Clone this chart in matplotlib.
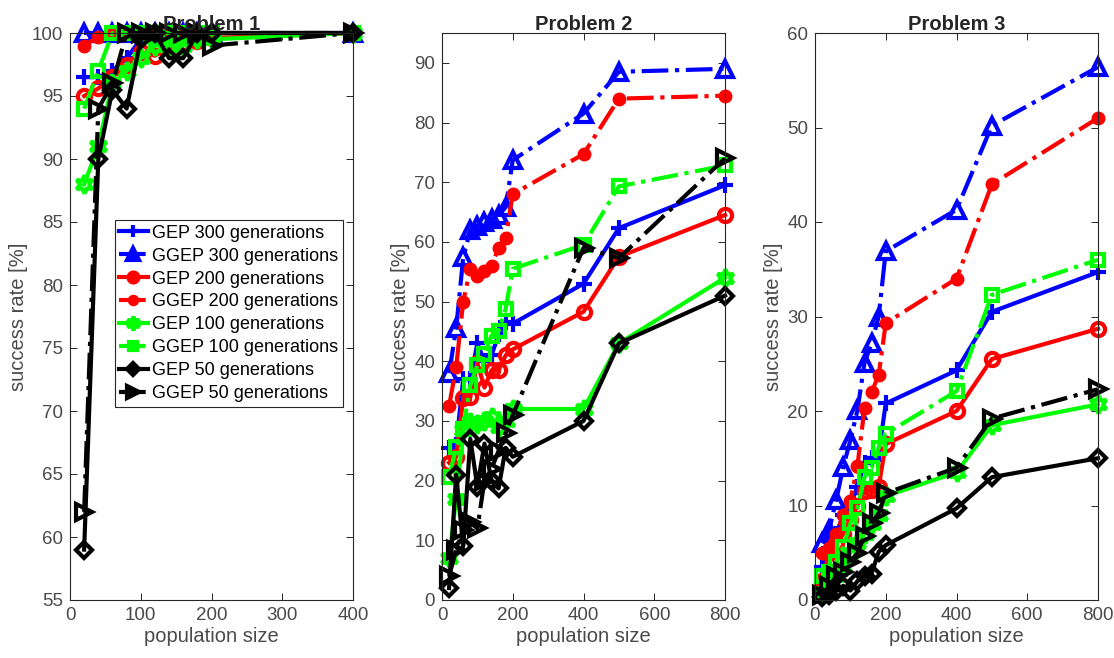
import matplotlib
matplotlib.use("Agg")
import matplotlib.pyplot as plt

plt.rcParams['font.family'] = ['Liberation Sans', 'DejaVu Sans']

# ---------------- data ----------------
pop1 = [20, 40, 60, 80, 100, 120, 140, 160, 180, 200, 400]
pop23 = [20, 40, 60, 80, 100, 120, 140, 160, 180, 200, 400, 500, 800]

labels = ["GEP 300 generations", "GGEP 300 generations",
          "GEP 200 generations", "GGEP 200 generations",
          "GEP 100 generations", "GGEP 100 generations",
          "GEP 50 generations", "GGEP 50 generations"]

# Problem 1
p1_gep300 = [96.5, 96.5, 97, 98, 99.5, 100, 100, 100, 100, 100, 100]
p1_ggep300 = [100, 100, 100, 100, 100, 100, 100, 100, 100, 100, 100]
p1_gep200 = [95, 95.6, 96.5, 97.5, 98.5, 98.2, 98.8, 99.2, 99.4, 99.6, 100]
p1_ggep200 = [99, 99.7, 100, 100, 100, 100, 100, 100, 100, 100, 100]
p1_gep100 = [88, 91, 96, 97, 98, 99, 99, 99, 99.5, 99.5, 100]
p1_ggep100 = [94, 97, 100, 100, 100, 100, 100, 100, 100, 100, 100]
p1_gep50 = [59, 90, 95.5, 94, 99.5, 100, 98, 98, 100, 100, 100]
p1_ggep50 = [62, 94, 96, 100, 100, 100, 100, 100, 100, 99, 100]

# Problem 2
p2_gep300 = [25.5, 26, 37, 37, 43, 40, 41, 44.5, 46.5, 46.3, 53, 62.3, 69.5]
p2_ggep300 = [38, 45.5, 57.4, 62, 62.7, 63.3, 63.9, 64.5, 65.8, 73.7, 81.5, 88.5, 89]
p2_gep200 = [23, 24, 33.8, 34, 39.7, 35.6, 38.5, 38.5, 41, 42, 48.3, 57.5, 64.5]
p2_ggep200 = [32.5, 39, 50, 55.5, 54.3, 55.2, 56, 59, 60.7, 68, 74.7, 84, 84.5]
p2_gep100 = [7, 17, 28.4, 29.8, 29.5, 30, 30.6, 29, 30, 32, 32, 43, 54]
p2_ggep100 = [20.6, 25.6, 28.7, 36, 39.3, 41.3, 44.3, 45.1, 48.8, 55.5, 59.5, 69.3, 72.8]
p2_gep50 = [2, 21, 9, 27, 19, 26.2, 20, 18.7, 25.5, 24, 30, 43, 51]
p2_ggep50 = [4, 8.4, 11.7, 13, 12, 20, 22, 25, 28, 31, 59, 57.3, 74]

# Problem 3
p3_gep300 = [3.5, 5.5, 7, 9, 10, 12, 14.5, 15, 15.5, 20.8, 24.3, 30.5, 34.7]
p3_ggep300 = [6, 7.4, 10.6, 14.1, 16.9, 20.1, 25.1, 27.2, 30, 36.9, 41.3, 50.2, 56.4]
p3_gep200 = [2, 5, 6, 7, 8.5, 10, 11.5, 11.6, 12, 16.5, 20, 25.5, 28.7]
p3_ggep200 = [5, 5.5, 7, 9, 10.5, 14.2, 20.3, 22, 23.8, 29.3, 34, 44, 51]
p3_gep100 = [0.8, 1.5, 2.5, 3.5, 5, 6, 7, 8, 9, 11, 13.5, 18.5, 20.7]
p3_ggep100 = [2.5, 3, 4, 5.6, 8.1, 9.7, 13, 14, 16.1, 17.6, 22.1, 32.3, 36]
p3_gep50 = [0.3, 0.5, 1, 1.5, 1, 2, 2.5, 2.8, 5.1, 5.8, 9.7, 13, 15]
p3_ggep50 = [0.5, 1.5, 2.5, 3, 4, 5, 6.8, 8.1, 9.2, 11.3, 14, 19.2, 22.3]

titles = ["Problem 1", "Problem 2", "Problem 3"]
xlims = [(0, 400), (0, 800), (0, 800)]
xticks = [[0, 100, 200, 300, 400], [0, 200, 400, 600, 800], [0, 200, 400, 600, 800]]
ylims = [(55, 100), (0, 95), (0, 60)]
yticks = [[55, 60, 65, 70, 75, 80, 85, 90, 95, 100],
          [0, 10, 20, 30, 40, 50, 60, 70, 80, 90],
          [0, 10, 20, 30, 40, 50, 60]]

# ---------------- styles ----------------
hexagram = (6, 1, 0)
styles = [
    dict(color=(0, 0, 1), ls='-', marker='+', ms=11, mfc='none'),
    dict(color=(0, 0, 1), ls='-.', marker='^', ms=11, mfc='none'),
    dict(color=(1, 0, 0), ls='-', marker='o', ms=9.5, mfc='none'),
    dict(color=(1, 0, 0), ls='-.', marker='o', ms=7, mfc=(1, 0, 0)),
    dict(color=(0, 1, 0), ls='-', marker=hexagram, ms=13, mfc='none'),
    dict(color=(0, 1, 0), ls='-.', marker='s', ms=8.5, mfc='none'),
    dict(color=(0, 0, 0), ls='-', marker='D', ms=8.5, mfc='none'),
    dict(color=(0, 0, 0), ls='-.', marker='>', ms=11, mfc='none'),
]

data = [
    (pop1, [p1_gep300, p1_ggep300, p1_gep200, p1_ggep200, p1_gep100, p1_ggep100, p1_gep50, p1_ggep50]),
    (pop23, [p2_gep300, p2_ggep300, p2_gep200, p2_ggep200, p2_gep100, p2_ggep100, p2_gep50, p2_ggep50]),
    (pop23, [p3_gep300, p3_ggep300, p3_gep200, p3_ggep200, p3_gep100, p3_ggep100, p3_gep50, p3_ggep50]),
]

W, H = 1114, 658
fig = plt.figure(figsize=(W / 100, H / 100), dpi=100)
dark = '#262626'
gray = '#4a4a4a'
lefts = [70, 442, 815]
aw = 283
top, bottom = 33, 600

for i in range(3):
    ax = fig.add_axes([lefts[i] / W, 1 - bottom / H, aw / W, (bottom - top) / H])
    x, series = data[i]
    for s, st, lab in zip(series, styles, labels):
        ax.plot(x, s, lw=3, mew=3, mec=st['color'], label=lab, clip_on=False, **st)
    ax.set_xlim(*xlims[i])
    ax.set_ylim(*ylims[i])
    ax.set_xticks(xticks[i])
    ax.set_yticks(yticks[i])
    ax.tick_params(direction='in', top=True, right=True, length=5, width=0.7,
                   color=dark, labelcolor=gray, labelsize=13.5, pad=5)
    for sp in ax.spines.values():
        sp.set_color(dark)
        sp.set_linewidth(0.8)
    ax.set_title(titles[i], fontsize=14.5, fontweight='bold', color=dark, pad=2)
    ax.set_xlabel("population size", fontsize=14.5, color=gray, labelpad=2)
    ax.set_ylabel("success rate [%]", fontsize=14.5, color=gray, labelpad=3)
    if i == 0:
        leg = ax.legend(loc='upper right', bbox_to_anchor=(0.965, 0.67), fontsize=13,
                        frameon=True, fancybox=False, edgecolor=dark, framealpha=1,
                        labelspacing=0.33, handlelength=1.6, handletextpad=0.25,
                        borderpad=0.25, borderaxespad=0, markerscale=0.75)
        leg.get_frame().set_linewidth(0.8)
        for h, st in zip(leg.legend_handles, styles):
            h.set_markerfacecolor(st['color'])
        for t in leg.get_texts():
            t.set_color('black')

fig.savefig("out.png", dpi=100)
